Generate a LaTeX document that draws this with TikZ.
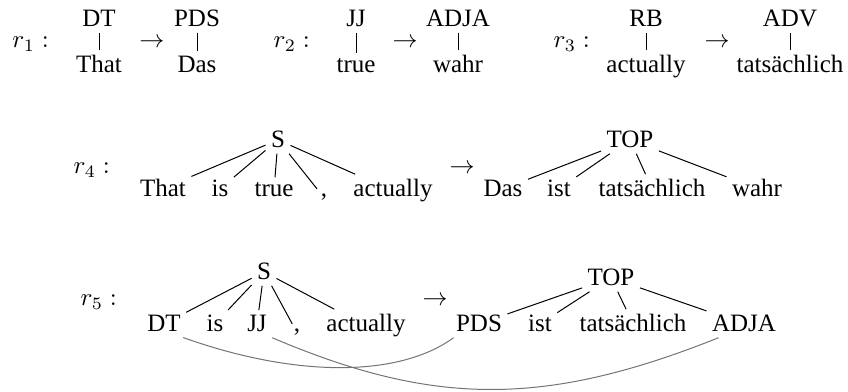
\documentclass[tikz,border=0pt]{standalone}
\usepackage[no-math]{fontspec}
\setmainfont{Liberation Serif}
\usetikzlibrary{calc}
\begin{document}
\begin{tikzpicture}[x=0.4pt,y=-0.4pt,
  lbl/.style={inner sep=2pt, anchor=base},
  rulelbl/.style={inner sep=0pt, anchor=base west},
  arr/.style={inner sep=0pt, anchor=base},
  branch/.style={line width=0.4pt},
  alignlink/.style={draw=black!55, line width=0.4pt}]
\useasboundingbox (0,0) rectangle (848,392);

% ---- r1 ----
\node[rulelbl] (r1) at (12,48) {$r_1:$};
\node[lbl] (dt1) at (99,27) {DT};
\node[lbl] (that1) at (99,73) {That};
\node[arr] (ar1) at (152,48) {$\rightarrow$};
\node[lbl] (pds1) at (197,27) {PDS};
\node[lbl] (das1) at (197,73) {Das};
\draw[branch] (dt1) -- (that1);
\draw[branch] (pds1) -- (das1);

% ---- r2 ----
\node[rulelbl] (r2) at (273,48) {$r_2:$};
\node[lbl] (jj2) at (356,27) {JJ};
\node[lbl] (true2) at (356,73) {true};
\node[arr] (ar2) at (405,48) {$\rightarrow$};
\node[lbl] (adja2) at (458,27) {ADJA};
\node[lbl] (wahr2) at (458,73) {wahr};
\draw[branch] (jj2) -- (true2);
\draw[branch] (adja2) -- (wahr2);

% ---- r3 ----
\node[rulelbl] (r3) at (553,48) {$r_3:$};
\node[lbl] (rb3) at (646,27) {RB};
\node[lbl] (act3) at (646,73) {actually};
\node[arr] (ar3) at (717,48) {$\rightarrow$};
\node[lbl] (adv3) at (790,27) {ADV};
\node[lbl] (tat3) at (790,73) {tatsächlich};
\draw[branch] (rb3) -- (act3);
\draw[branch] (adv3) -- (tat3);

% ---- r4 ----
\node[rulelbl] (r4) at (73,174) {$r_4:$};
\node[lbl] (s4) at (278,148) {S};
\node[lbl] (that4) at (163,197) {That};
\node[lbl] (is4) at (220,197) {is};
\node[lbl] (true4) at (274,197) {true};
\node[lbl] (comma4) at (324,197) {,};
\node[lbl] (act4) at (393,197) {actually};
\foreach \c in {that4,is4,true4,comma4,act4} \draw[branch] (s4) -- (\c);
\node[arr] (ar4) at (462,174) {$\rightarrow$};
\node[lbl] (top4) at (630,148) {TOP};
\node[lbl] (das4) at (503,197) {Das};
\node[lbl] (ist4) at (559,197) {ist};
\node[lbl] (tat4) at (652,197) {tatsächlich};
\node[lbl] (wahr4) at (757,197) {wahr};
\foreach \c in {das4,ist4,tat4,wahr4} \draw[branch] (top4) -- (\c);

% ---- r5 ----
\node[rulelbl] (r5) at (80,306) {$r_5:$};
\node[lbl] (s5) at (264,280) {S};
\node[lbl] (dt5) at (164,332) {DT};
\node[lbl] (is5) at (215,332) {is};
\node[lbl] (jj5) at (257,332) {JJ};
\node[lbl] (comma5) at (297,332) {,};
\node[lbl] (act5) at (366,332) {actually};
\foreach \c in {dt5,is5,jj5,comma5,act5} \draw[branch] (s5) -- (\c);
\node[arr] (ar5) at (435,306) {$\rightarrow$};
\node[lbl] (top5) at (611,286) {TOP};
\node[lbl] (pds5) at (479,332) {PDS};
\node[lbl] (ist5) at (540,332) {ist};
\node[lbl] (tat5) at (633,332) {tatsächlich};
\node[lbl] (adja5) at (744,332) {ADJA};
\foreach \c in {pds5,ist5,tat5,adja5} \draw[branch] (top5) -- (\c);

% alignment links between source and target categories
\draw[alignlink] ($(dt5.south east)+(-3,0)$) .. controls +(112,40) and +(-55,40) .. ($(pds5.south west)+(3,0)$);
\draw[alignlink] (jj5.south east) .. controls +(162,69) and +(-173,69) .. ($(adja5.south west)+(12,0)$);
\end{tikzpicture}
\end{document}
